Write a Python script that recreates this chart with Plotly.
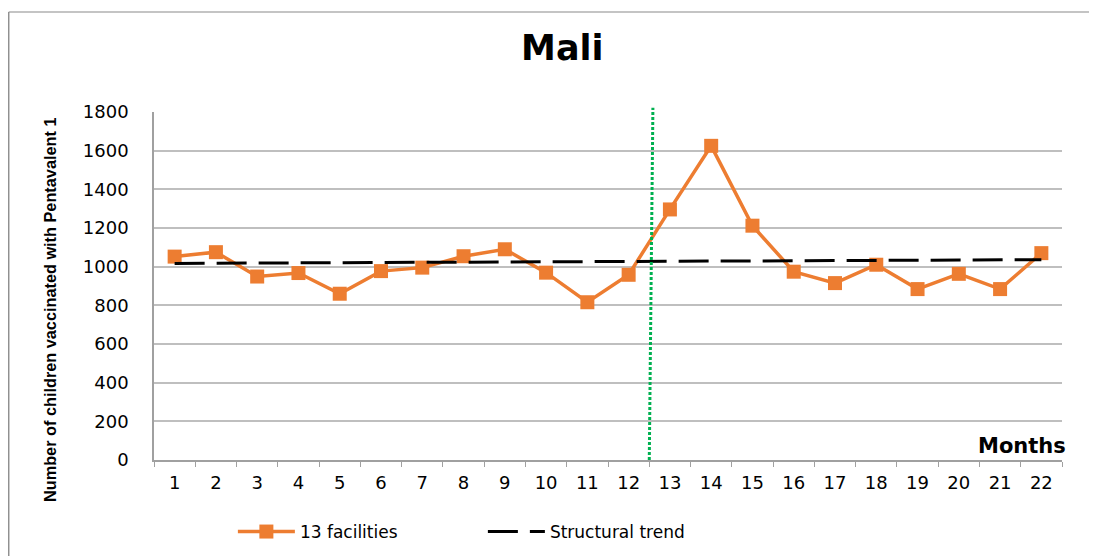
import plotly.graph_objects as go

MESES = [str(m) for m in range(1, 23)]
FACILIDADES = [1052, 1075, 949, 967, 860, 977, 995, 1054, 1090, 969, 816, 958,
               1296, 1625, 1212, 974, 915, 1010, 884, 963, 884, 1070]
TENDENCIA = [1017, 1018, 1019, 1020, 1021, 1022, 1022, 1023, 1024, 1025, 1026,
             1027, 1028, 1029, 1030, 1031, 1032, 1033, 1034, 1034, 1035, 1036]
CORTE = 11.5  # límite entre los meses 12 y 13

NARANJA = "#ED7D31"
VERDE = "#00B050"
GRIS = "#BFBFBF"
FUENTE = "DejaVu Sans"

fig = go.Figure()
fig.add_trace(go.Scatter(
    x=MESES, y=FACILIDADES, name="13 facilities", mode="lines+markers",
    line={"color": NARANJA, "width": 3.5},
    marker={"symbol": "square", "size": 14, "color": NARANJA},
))
fig.add_trace(go.Scatter(
    x=MESES, y=TENDENCIA, name="Structural trend", mode="lines",
    line={"color": "black", "width": 3, "dash": "30px,12px"},
))

# línea vertical punteada de la intervención (sobresale un poco del área)
x_corte = (CORTE + 0.5) / len(MESES)
fig.add_shape(type="line", xref="paper", yref="paper", x0=x_corte, x1=x_corte + 0.004,
              y0=0, y1=1.012, line={"color": VERDE, "width": 3, "dash": "3px,2px"})

# marco del gráfico (arriba e izquierda)
fig.add_shape(type="line", xref="paper", yref="paper", x0=-0.16, x1=1.1, y0=1.287, y1=1.287,
              line={"color": "#B0B0B0", "width": 1.5})
fig.add_shape(type="line", xref="paper", yref="paper", x0=-0.16, x1=-0.16, y0=1.287, y1=-0.3,
              line={"color": "#909090", "width": 1.5})

fig.add_annotation(text="<b>Number of children vaccinated with Pentavalent 1</b>",
                   xref="paper", yref="paper", x=-0.1145, y=0.431, textangle=-90,
                   xanchor="center", yanchor="middle", showarrow=False,
                   font={"family": "Liberation Sans Narrow, Arial Narrow, sans-serif",
                         "size": 16.3, "color": "black"})
fig.add_annotation(text="<b>Months</b>", xref="paper", yref="paper", x=1.0066, y=0.04,
                   xanchor="right", yanchor="middle", showarrow=False,
                   font={"family": FUENTE, "size": 21, "color": "black"})

fig.update_layout(
    width=1089, height=548,
    margin={"l": 146, "r": 35, "t": 104, "b": 96},
    paper_bgcolor="white", plot_bgcolor="white",
    title={"text": "<b>Mali</b>", "x": 0.509, "xanchor": "center", "y": 0.928, "yanchor": "middle",
           "font": {"family": FUENTE, "size": 35, "color": "black"}},
    font={"family": FUENTE, "size": 18, "color": "black"},
    showlegend=True,
    legend={"orientation": "h", "xref": "container", "yref": "container",
            "x": 0.2065, "y": 0.0438, "yanchor": "middle", "xanchor": "left",
            "itemwidth": 57, "entrywidth": 178, "font": {"size": 17}},
)
fig.update_xaxes(type="category", range=[-0.5, 21.5], tickson="boundaries",
                 ticks="outside", ticklen=5, tickcolor="#A0A0A0",
                 showline=True, linecolor="#A0A0A0", linewidth=1.5,
                 showgrid=False, ticklabelstandoff=6, tickfont={"size": 18})
fig.update_yaxes(range=[0, 1800], dtick=200, showgrid=True, gridcolor=GRIS, gridwidth=1.5,
                 showline=True, linecolor="#A0A0A0", linewidth=1.5, zeroline=False,
                 ticks="", ticklabelstandoff=20, tickfont={"size": 18})

fig.write_html("out.html")
